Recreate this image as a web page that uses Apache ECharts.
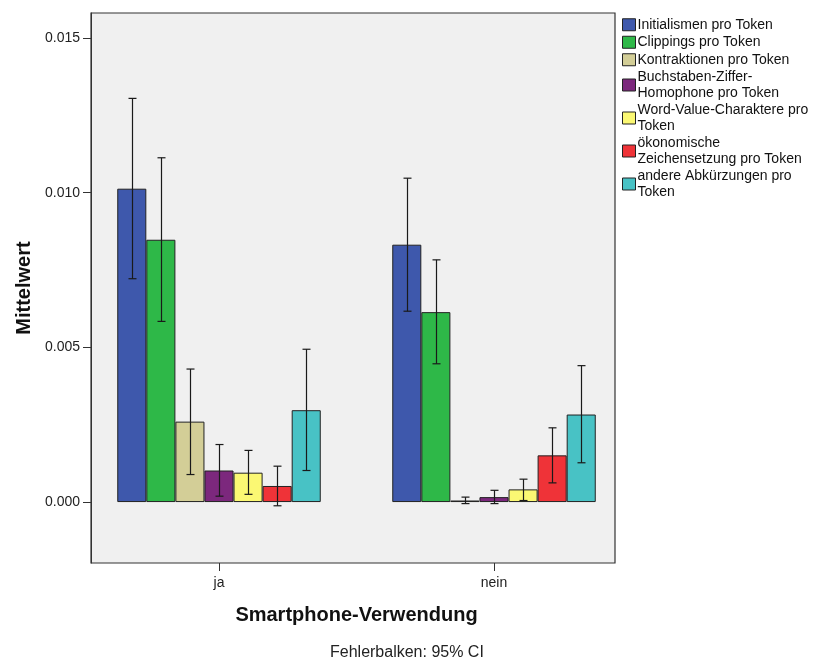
<!DOCTYPE html>
<html>
<head>
<meta charset="utf-8">
<script src="https://cdn.jsdelivr.net/npm/echarts@6/dist/echarts.min.js"></script>
<style>html,body{margin:0;padding:0;background:#fff}#c{width:820px;height:664px}</style>
</head>
<body>
<div id="c"></div>
<script>
var categories = ['ja', 'nein'];
var seriesNames = [
  'Initialismen pro Token',
  'Clippings pro Token',
  'Kontraktionen pro Token',
  'Buchstaben-Ziffer-Homophone pro Token',
  'Word-Value-Charaktere pro Token',
  'ökonomische Zeichensetzung pro Token',
  'andere Abkürzungen pro Token'
];
var legendLabels = [
  'Initialismen pro Token',
  'Clippings pro Token',
  'Kontraktionen pro Token',
  'Buchstaben-Ziffer-\nHomophone pro Token',
  'Word-Value-Charaktere pro\nToken',
  'ökonomische\nZeichensetzung pro Token',
  'andere Abkürzungen pro\nToken'
];
// means per series: [ja, nein]
var initialismen = [0.01013, 0.00832];
var clippings = [0.00848, 0.00614];
var kontraktionen = [0.00260, 0.00005];
var buchstaben = [0.00102, 0.00016];
var wordValue = [0.00095, 0.00041];
var oekonomisch = [0.00052, 0.00151];
var andere = [0.00297, 0.00283];
// 95% CI lower / upper per series: [ja, nein]
var ciLower = [
  [0.00722, 0.00617],
  [0.00584, 0.00447],
  [0.00089, -0.00005],
  [0.00019, -0.00005],
  [0.00025, 0.00005],
  [-0.00012, 0.00062],
  [0.00102, 0.00127]
];
var ciUpper = [
  [0.01305, 0.01047],
  [0.01113, 0.00783],
  [0.00430, 0.00016],
  [0.00186, 0.00038],
  [0.00167, 0.00074],
  [0.00116, 0.00240],
  [0.00494, 0.00441]
];
var yTicks = [0, 0.005, 0.010, 0.015];
var colors = ['#3E58AC', '#2EB848', '#D3CE97', '#7C287D', '#FBF873', '#EF3338', '#48C2C5'];

var means = [initialismen, clippings, kontraktionen, buchstaben, wordValue, oekonomisch, andere];
var GAP = 0.26;
var N = seriesNames.length;
var YMIN = -0.00197, YMAX = 0.01581;
var FONT = 'Liberation Sans, Arial, sans-serif';

var series = [];
means.forEach(function (vals, i) {
  series.push({
    type: 'bar',
    name: seriesNames[i],
    xAxisIndex: 1, yAxisIndex: 1,
    data: vals,
    barGap: 0,
    barCategoryGap: (GAP * 100) + '%',
    itemStyle: { color: colors[i], borderColor: '#222', borderWidth: 1 },
    emphasis: { disabled: true }
  });
});
means.forEach(function (vals, i) {
  series.push({
    type: 'custom',
    name: seriesNames[i],
    xAxisIndex: 1, yAxisIndex: 1,
    z: 10,
    encode: { x: 0, y: [1, 2] },
    data: categories.map(function (c, k) { return [k, ciLower[i][k], ciUpper[i][k]]; }),
    renderItem: function (params, api) {
      var k = api.value(0);
      var lo = api.coord([k, api.value(1)]);
      var hi = api.coord([k, api.value(2)]);
      var band = api.size([1, 0])[0];
      var gw = band * (1 - GAP);
      var bw = gw / N;
      var x = Math.round(lo[0] - gw / 2 + bw * (i + 0.5)) + 0.5;
      var cap = 4;
      var st = { stroke: '#1a1a1a', lineWidth: 1.2 };
      return {
        type: 'group',
        children: [
          { type: 'line', shape: { x1: x, y1: lo[1], x2: x, y2: hi[1] }, style: st },
          { type: 'line', shape: { x1: x - cap, y1: lo[1], x2: x + cap, y2: lo[1] }, style: st },
          { type: 'line', shape: { x1: x - cap, y1: hi[1], x2: x + cap, y2: hi[1] }, style: st }
        ]
      };
    }
  });
});

var chart = echarts.init(document.getElementById('c'), null, { renderer: 'canvas' });
chart.setOption({
  animation: false,
  backgroundColor: '#fff',
  textStyle: { fontFamily: FONT },
  grid: [
    { left: 91, top: 13, right: 205, bottom: 101, show: true, backgroundColor: '#F0F0F0', borderColor: '#333', borderWidth: 1.2 },
    { left: 81.5, top: 13, width: 550, bottom: 101 }
  ],
  legend: {
    orient: 'vertical',
    left: 622, top: 17, padding: 0,
    itemWidth: 13, itemHeight: 12, itemGap: 2,
    data: seriesNames,
    selectedMode: false,
    icon: 'rect',
    itemStyle: { borderColor: '#222', borderWidth: 1 },
    textStyle: { fontSize: 14, color: '#111', lineHeight: 15.5, padding: [0, 0, 0, -3] },
    formatter: function (name) { return legendLabels[seriesNames.indexOf(name)]; }
  },
  xAxis: [
    { type: 'category', gridIndex: 0, data: categories, show: false },
    {
      type: 'category',
      gridIndex: 1,
      data: categories,
      axisLine: { show: false, onZero: false },
      axisTick: { show: true, alignWithLabel: true, length: 8, lineStyle: { color: '#333' } },
      axisLabel: { color: '#222', fontSize: 14, margin: 13 },
      name: 'Smartphone-Verwendung',
      nameLocation: 'middle',
      nameGap: 42,
      nameTextStyle: { fontSize: 20, fontWeight: 'bold', color: '#111' }
    }
  ],
  yAxis: [
    {
      type: 'value',
      gridIndex: 0,
      min: YMIN, max: YMAX,
      splitLine: { show: false },
      axisLine: { show: true, lineStyle: { color: '#333' } },
      axisTick: { show: true, length: 8, customValues: yTicks, lineStyle: { color: '#333' } },
      axisLabel: {
        color: '#222', fontSize: 14, margin: 11, customValues: yTicks,
        formatter: function (v) { return v.toFixed(3); }
      },
      name: 'Mittelwert',
      nameLocation: 'middle',
      nameGap: 47,
      nameTextStyle: { fontSize: 20, fontWeight: 'bold', color: '#111' }
    },
    { type: 'value', gridIndex: 1, min: YMIN, max: YMAX, show: false, splitLine: { show: false } }
  ],
  graphic: [{
    type: 'text', left: 330, top: 645,
    style: { text: 'Fehlerbalken: 95% CI', fontSize: 16, fill: '#222', fontFamily: FONT }
  }],
  series: series
});
</script>
</body>
</html>
